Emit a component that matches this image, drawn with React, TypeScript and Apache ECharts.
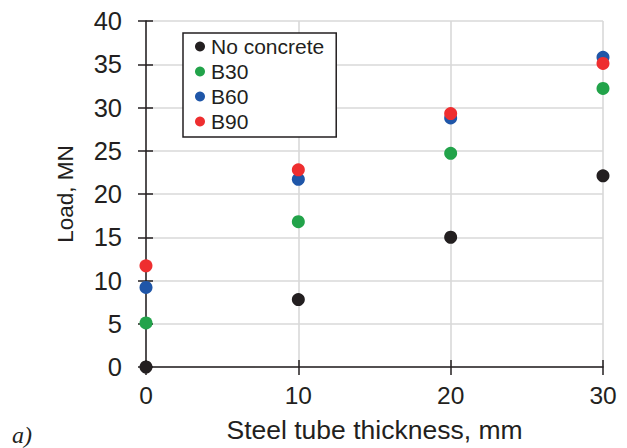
import React, { useEffect, useRef } from "react";
import * as echarts from "echarts";

// Steel tube thickness (mm) at which each load was measured
const thickness = [0, 10, 20, 30];

// Ultimate load, MN, per filling type
const noConcrete = [0, 7.8, 15.0, 22.1];
const b30 = [5.1, 16.8, 24.7, 32.2];
const b60 = [9.2, 21.7, 28.8, 35.8];
const b90 = [11.7, 22.8, 29.3, 35.1];

const seriesNames = ["No concrete", "B30", "B60", "B90"];
const seriesColors = ["#231f20", "#22a34a", "#1f56a8", "#ee2e2f"];
const seriesValues = [noConcrete, b30, b60, b90];

const FONT = "'Liberation Sans', Arial, Helvetica, sans-serif";
const INK = "#231f20";

export default function App() {
  const ref = useRef<HTMLDivElement>(null);

  useEffect(() => {
    if (!ref.current) return;
    const chart = echarts.init(ref.current, undefined, { renderer: "svg" });

    const gridLine = { show: true, lineStyle: { color: "#d9d9d9", width: 1.6 } };
    const tickStyle = { color: INK, width: 1.5 };

    chart.setOption({
      animation: false,
      backgroundColor: "#ffffff",
      textStyle: { fontFamily: FONT, color: INK },
      grid: { left: 146, top: 21, width: 457, height: 346, containLabel: false },
      legend: {
        orient: "vertical",
        left: 183,
        top: 33,
        backgroundColor: "#ffffff",
        borderColor: INK,
        borderWidth: 1.5,
        borderRadius: 0,
        padding: [3, 12, 5, 12],
        itemGap: 4,
        itemWidth: 10,
        itemHeight: 10,
        icon: "circle",
        selectedMode: false,
        textStyle: { fontFamily: FONT, fontSize: 21, color: INK, lineHeight: 21, padding: [0, 0, 0, 1] },
        data: seriesNames,
      },
      xAxis: [
        {
          type: "value",
          min: 0,
          max: 30,
          interval: 10,
          position: "bottom",
          name: "Steel tube thickness, mm",
          nameLocation: "middle",
          nameGap: 49,
          nameTextStyle: { fontFamily: FONT, fontSize: 26.5, color: INK },
          axisLine: { show: true, onZero: false, lineStyle: { color: INK, width: 1.5 } },
          axisTick: { show: true, inside: false, length: 8, lineStyle: tickStyle },
          axisLabel: { fontFamily: FONT, fontSize: 24.5, color: INK, margin: 16 },
          splitLine: gridLine,
        },
        {
          // inner half of the crossing tick marks
          type: "value",
          min: 0,
          max: 30,
          interval: 10,
          position: "bottom",
          axisLine: { show: false },
          axisTick: { show: true, inside: true, length: 7, lineStyle: tickStyle },
          axisLabel: { show: false },
          splitLine: { show: false },
        },
      ],
      yAxis: [
        {
          type: "value",
          min: 0,
          max: 40,
          interval: 5,
          position: "left",
          name: "Load, MN",
          nameLocation: "middle",
          nameGap: 69,
          nameTextStyle: { fontFamily: FONT, fontSize: 22.5, color: INK },
          axisLine: { show: true, onZero: false, lineStyle: { color: INK, width: 1.5 } },
          axisTick: { show: true, inside: false, length: 8, lineStyle: tickStyle },
          axisLabel: { fontFamily: FONT, fontSize: 25.5, color: INK, margin: 24 },
          splitLine: gridLine,
        },
        {
          type: "value",
          min: 0,
          max: 40,
          interval: 5,
          position: "left",
          axisLine: { show: false },
          axisTick: { show: true, inside: true, length: 7, lineStyle: tickStyle },
          axisLabel: { show: false },
          splitLine: { show: false },
        },
      ],
      series: seriesNames.map((name, i) => ({
        name,
        type: "scatter",
        xAxisIndex: 0,
        yAxisIndex: 0,
        symbol: "circle",
        symbolSize: 13,
        clip: false,
        itemStyle: { color: seriesColors[i], opacity: 1 },
        data: thickness.map((t, k) => [t, seriesValues[i][k]]),
      })),
      graphic: [
        {
          type: "text",
          left: 12,
          top: 423,
          style: {
            text: "a)",
            font: "italic 24px 'Liberation Serif', 'Times New Roman', serif",
            fill: INK,
          },
        },
      ],
    });

    return () => chart.dispose();
  }, []);

  return (
    <div
      ref={ref}
      style={{ position: "fixed", left: 0, top: 0, width: 627, height: 448 }}
    />
  );
}
